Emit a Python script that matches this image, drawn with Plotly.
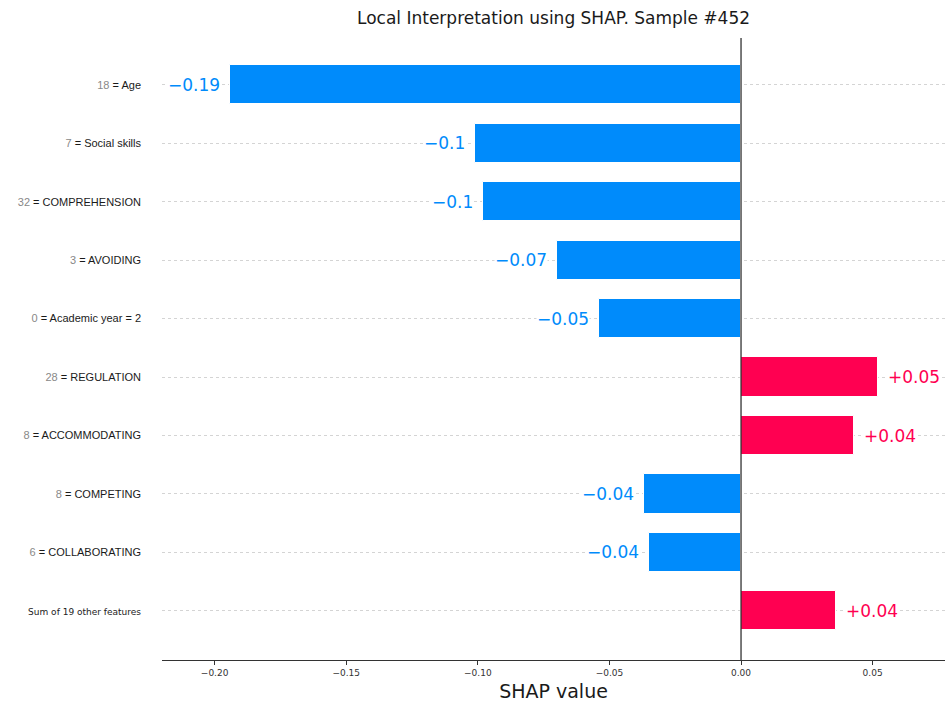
import plotly.graph_objects as go

# Feature contributions for sample #452 (top features, largest |SHAP| first)
features = ["Age", "Social skills", "COMPREHENSION", "AVOIDING", "Academic year = 2",
            "REGULATION", "ACCOMMODATING", "COMPETING", "COLLABORATING",
            "Sum of 19 other features"]
feature_values = ["18", "7", "32", "3", "0", "28", "8", "8", "6", None]
shap_values = [-0.194, -0.101, -0.098, -0.070, -0.054, 0.052, 0.043, -0.037, -0.035, 0.036]
x_ticks = [-0.20, -0.15, -0.10, -0.05, 0.00, 0.05]

BLUE = "#008BFB"
RED = "#FF0051"

rows = list(range(len(features)))
colors = [RED if v > 0 else BLUE for v in shap_values]


def fmt(v):
    s = f"{abs(v):.2f}".rstrip("0")
    return ("+" if v > 0 else "\u2212") + s


tick_text = []
for name, val in zip(features, feature_values):
    if val is None:
        tick_text.append(f'<span style="font-family:DejaVu Sans;font-size:9px;color:#222">{name}</span>')
    else:
        tick_text.append(f'<span style="color:#888">{val}</span> = <span style="color:#1a1a1a">{name}</span>')

fig = go.Figure()
fig.add_trace(go.Bar(
    x=shap_values, y=rows, orientation="h", width=0.67,
    marker=dict(color=colors, line=dict(color="white", width=1)),
    hoverinfo="skip", showlegend=False,
))

# value labels just outside the end of each bar
for r, v, c in zip(rows, shap_values, colors):
    fig.add_annotation(
        x=v, y=r, text=fmt(v), showarrow=False,
        xanchor="left" if v > 0 else "right",
        xshift=9 if v > 0 else -9,
        font=dict(family="DejaVu Sans", size=17, color=c),
        bgcolor="white", borderpad=0,
    )

# vertical reference line at zero
fig.add_shape(type="line", xref="x", yref="paper", x0=0, x1=0, y0=0, y1=1,
              line=dict(color="#333", width=1.3), layer="above")

fig.update_layout(
    width=945, height=704,
    margin=dict(l=162, r=0, t=38, b=44),
    paper_bgcolor="white", plot_bgcolor="white",
    title=dict(text="Local Interpretation using SHAP. Sample #452",
               x=0.5, xref="paper", y=1 - 18 / 704, yanchor="middle",
               font=dict(family="DejaVu Sans", size=17, color="#1a1a1a")),
    font=dict(family="Liberation Sans", size=11, color="#1a1a1a"),
    bargap=0,
)
fig.update_xaxes(
    range=[-0.22, 0.0775], tickvals=x_ticks,
    ticktext=[f"{t:.2f}".replace("-", "\u2212") for t in x_ticks],
    showline=True, linecolor="#333", linewidth=1,
    ticks="outside", ticklen=4, tickcolor="#333",
    tickfont=dict(family="DejaVu Sans", size=9, color="#333"),
    showgrid=False, zeroline=False,
    title=dict(text="SHAP value", standoff=7,
               font=dict(family="DejaVu Sans", size=19, color="#1a1a1a")),
)
fig.update_yaxes(
    range=[9.84, -0.80], tickvals=rows, ticktext=tick_text,
    showgrid=True, gridcolor="#d4d4d4", griddash="dot", gridwidth=1,
    zeroline=False, showline=False, ticks="", ticklabelstandoff=20,
)

fig.write_html("out.html")
